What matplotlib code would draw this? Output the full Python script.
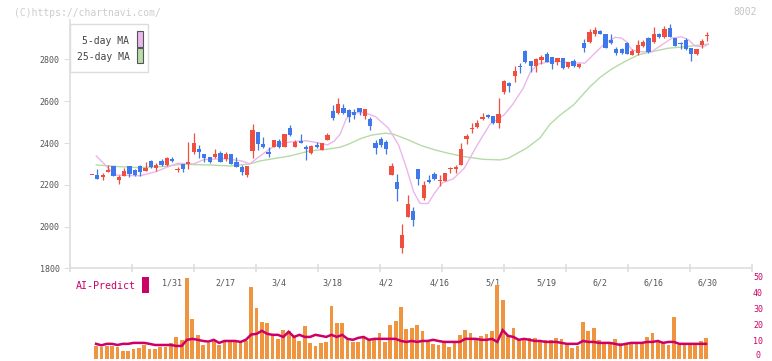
import numpy as np
import matplotlib.pyplot as plt
from matplotlib.patches import Rectangle

# ---- data (116 trading days, 2025-01-09 .. 2025-06-30) ----
opens = [2245, 2247, 2236, 2263, 2290, 2224, 2244, 2290, 2271, 2290,
         2266, 2314, 2282, 2314, 2295, 2324, 2272, 2300, 2298, 2356,
         2371, 2348, 2333, 2333, 2352, 2323, 2348, 2309, 2285, 2248,
         2363, 2453, 2395, 2356, 2382, 2410, 2382, 2472, 2382, 2410,
         2381, 2351, 2391, 2367, 2415, 2553, 2544, 2568, 2558, 2549,
         2568, 2530, 2515, 2400, 2419, 2405, 2247, 2213, 1898, 2046,
         2074, 2276, 2137, 2223, 2252, 2218, 2218, 2274, 2276, 2295,
         2419, 2465, 2477, 2515, 2534, 2530, 2496, 2645, 2688, 2721,
         2765, 2841, 2793, 2769, 2797, 2826, 2812, 2788, 2807, 2764,
         2793, 2764, 2879, 2884, 2922, 2937, 2922, 2893, 2850, 2850,
         2879, 2822, 2831, 2865, 2903, 2884, 2922, 2908, 2951, 2903,
         2876, 2893, 2855, 2826, 2869, 2912]
highs = [2246, 2277, 2255, 2295, 2290, 2247, 2279, 2290, 2277, 2295,
         2309, 2319, 2304, 2324, 2332, 2333, 2284, 2300, 2405, 2448,
         2391, 2348, 2333, 2372, 2362, 2357, 2348, 2333, 2295, 2290,
         2493, 2453, 2429, 2382, 2415, 2419, 2443, 2486, 2415, 2443,
         2391, 2391, 2405, 2400, 2450, 2582, 2616, 2587, 2563, 2563,
         2568, 2563, 2525, 2415, 2429, 2415, 2304, 2252, 2012, 2151,
         2094, 2276, 2218, 2247, 2261, 2247, 2256, 2285, 2295, 2400,
         2443, 2496, 2510, 2544, 2539, 2530, 2616, 2702, 2693, 2769,
         2784, 2845, 2793, 2807, 2822, 2836, 2812, 2807, 2807, 2788,
         2802, 2783, 2898, 2946, 2956, 2941, 2922, 2922, 2860, 2855,
         2884, 2850, 2893, 2893, 2908, 2956, 2927, 2961, 2970, 2903,
         2884, 2903, 2855, 2850, 2898, 2932]
lows = [2245, 2229, 2224, 2260, 2242, 2205, 2242, 2237, 2242, 2242,
        2266, 2279, 2266, 2290, 2290, 2309, 2260, 2260, 2274, 2348,
        2330, 2309, 2303, 2328, 2309, 2314, 2300, 2285, 2247, 2237,
        2328, 2367, 2378, 2335, 2380, 2375, 2382, 2434, 2380, 2400,
        2319, 2348, 2375, 2367, 2415, 2510, 2539, 2539, 2501, 2515,
        2534, 2515, 2462, 2348, 2381, 2348, 2247, 2122, 1873, 2046,
        2003, 2199, 2127, 2208, 2223, 2194, 2218, 2256, 2256, 2295,
        2395, 2448, 2472, 2510, 2520, 2491, 2472, 2635, 2645, 2692,
        2735, 2783, 2740, 2740, 2778, 2788, 2754, 2773, 2754, 2759,
        2764, 2759, 2836, 2879, 2912, 2922, 2855, 2874, 2821, 2826,
        2826, 2822, 2822, 2860, 2831, 2879, 2903, 2903, 2908, 2865,
        2850, 2845, 2793, 2822, 2855, 2889]
closes = [2246, 2229, 2247, 2272, 2242, 2237, 2266, 2253, 2248, 2263,
          2280, 2284, 2295, 2295, 2327, 2314, 2275, 2274, 2309, 2400,
          2359, 2328, 2309, 2348, 2309, 2348, 2300, 2285, 2261, 2290,
          2462, 2395, 2382, 2346, 2415, 2380, 2443, 2439, 2405, 2402,
          2370, 2386, 2380, 2400, 2439, 2520, 2587, 2545, 2525, 2534,
          2549, 2563, 2482, 2376, 2391, 2372, 2290, 2180, 1960, 2108,
          2031, 2228, 2199, 2212, 2228, 2222, 2256, 2277, 2285, 2372,
          2434, 2468, 2496, 2525, 2525, 2496, 2539, 2697, 2673, 2745,
          2762, 2788, 2769, 2802, 2812, 2788, 2778, 2807, 2759, 2788,
          2769, 2778, 2855, 2932, 2941, 2922, 2855, 2879, 2831, 2831,
          2826, 2841, 2869, 2884, 2836, 2922, 2908, 2946, 2908, 2865,
          2872, 2850, 2826, 2850, 2889, 2915]

# moving averages, sampled along the drawn curves
ma5_x = [0.8, 4.3, 9, 12, 14, 16, 19, 21, 25, 28, 29.5, 31, 33, 34.5, 37, 40,
         42, 44, 45.3, 46.4, 47.5, 48.5, 51, 53, 55.4, 57.3, 58.8, 60.1, 61.3,
         62.8, 64, 65.5, 67.5, 69.6, 72, 74.4, 77, 78.5, 80.6, 81.9, 83.3,
         85.6, 87.5, 90, 91.2, 92.1, 94, 95.9, 97.8, 99, 99.9, 100.9, 102.4,
         104.6, 106.5, 108.4, 110.2, 111.5, 112.7, 114.3, 115.2]
ma5_y = [2338, 2247, 2243, 2263, 2284, 2303, 2300, 2321, 2325, 2314, 2300,
         2330, 2367, 2391, 2405, 2411, 2402, 2391, 2410, 2443, 2515, 2545,
         2545, 2526, 2471, 2391, 2279, 2167, 2111, 2110, 2159, 2210, 2228,
         2280, 2390, 2490, 2534, 2580, 2662, 2738, 2778, 2790, 2790, 2782,
         2784, 2782, 2830, 2878, 2906, 2902, 2885, 2846, 2837, 2837, 2870,
         2902, 2909, 2894, 2865, 2861, 2874]
ma25_x = [0.8, 4.9, 8.7, 13, 16.8, 21.7, 25.8, 29.5, 31.4, 33.9, 37, 40.7,
          43.9, 46.4, 47.9, 50.4, 52.3, 54.8, 56.3, 59.1, 61.6, 64.1, 66.6,
          69.4, 73.1, 76.3, 77.8, 81.2, 83.7, 85.6, 87.5, 90, 93.1, 95, 97.2,
          99.6, 102.1, 104.6, 107.7, 110.8, 113.9, 115.2]
ma25_y = [2295, 2287, 2282, 2287, 2298, 2295, 2290, 2300, 2314, 2325, 2338,
          2362, 2370, 2380, 2394, 2423, 2438, 2447, 2443, 2415, 2387, 2367,
          2351, 2335, 2322, 2319, 2327, 2375, 2423, 2490, 2534, 2582, 2670,
          2715, 2755, 2790, 2822, 2837, 2854, 2861, 2870, 2873]

volume = [np.nan, 7.8, 7.0, 7.8, 7.8, 7.0, 4.7, 4.7, 5.9, 6.6,
          8.2, 5.9, 5.9, 7.4, 7.4, 9.7, 13.4, 11.6, 49.7, 24.7,
          14.7, 8.4, 9.7, 11.6, 8.4, 10.3, 11.1, 11.1, 10.3, 11.1,
          44.1, 31.6, 22.4, 22.2, 15.1, 12.2, 17.8, 17.2, 14.1, 11.0,
          20.1, 9.7, 7.8, 9.7, 10.5, 32.8, 21.8, 21.8, 12.2, 10.5,
          10.5, 13.6, 12.2, 12.4, 16.1, 10.3, 20.9, 23.2, 32.2, 18.4,
          19.1, 20.9, 17.2, 11.6, 9.1, 8.4, 9.7, 7.2, 9.7, 14.7,
          17.8, 15.9, 12.8, 14.1, 15.3, 17.2, 45.9, 36.6, 14.1, 19.1,
          11.6, 11.6, 12.8, 12.8, 11.6, 11.6, 11.6, 12.8, 12.2, 8.4,
          6.6, 7.8, 22.8, 17.2, 19.1, 11.6, 9.7, 9.7, 12.2, 9.7,
          9.1, 9.1, 9.7, 9.7, 13.4, 15.9, 10.9, 10.3, 8.4, 25.9,
          8.4, 9.7, 9.1, 9.7, 10.9, 12.8]
ai_predict = [np.nan, 9.1, 8.2, 9.1, 9.1, 8.4, 9.1, 9.1, 9.7, 9.7,
              9.7, 9.1, 8.4, 8.4, 8.4, 8.4, 7.8, 7.8, 11.6, 12.2,
              11.6, 10.9, 10.5, 11.6, 9.7, 10.9, 10.9, 10.9, 10.3, 11.6,
              14.9, 15.3, 17.2, 15.3, 14.7, 14.7, 13.4, 16.6, 13.4, 14.7,
              13.4, 13.4, 14.7, 14.1, 13.4, 14.7, 13.4, 14.7, 12.2, 11.6,
              12.8, 13.4, 11.6, 12.2, 12.2, 12.2, 12.2, 12.2, 10.9, 10.3,
              10.9, 10.3, 10.9, 10.9, 11.6, 10.9, 10.3, 10.3, 10.3, 10.3,
              12.2, 12.2, 12.2, 11.6, 11.6, 12.2, 10.3, 17.6, 14.1, 13.4,
              11.6, 12.2, 11.6, 10.9, 10.9, 10.3, 10.3, 10.3, 9.7, 9.1,
              9.1, 9.1, 10.9, 10.3, 10.3, 9.7, 9.7, 9.7, 9.1, 8.4,
              9.1, 9.7, 9.7, 9.7, 10.3, 10.3, 10.9, 9.7, 10.3, 10.3,
              9.1, 9.1, 9.1, 9.1, 9.1, 9.1]

date_idx = [15, 25, 35, 45, 55, 65, 75, 85, 95, 105, 115]
date_labels = ['1/31', '2/17', '3/4', '3/18', '4/2', '4/16', '5/1', '5/19',
               '6/2', '6/16', '6/30']
price_ticks = [1800, 2000, 2200, 2400, 2600, 2800]
vol_ticks = [0, 10, 20, 30, 40, 50]

# ---- drawing ----
W, H = 772, 361
MONO = 'DejaVu Sans Mono'
RED, BLUE = '#f04e3e', '#3f78ea'
AXC = '#dedede'


def fx(px):
    return px / W


def fy(py):
    return 1 - py / H


fig = plt.figure(figsize=(W / 100, H / 100), dpi=100)
fig.patch.set_facecolor('white')

ax = fig.add_axes([fx(70), fy(268.3), fx(752) - fx(70), fy(20) - fy(268.3)])
ax.set_xlim(-4.11, 123.36)
ax.set_ylim(1800, 2989)

o = np.array(opens, float)
c = np.array(closes, float)
h = np.array(highs, float)
l = np.array(lows, float)
x = np.arange(len(o))
col = np.where(c >= o, RED, BLUE)

ax.vlines(x, l, h, colors=col, lw=0.9, zorder=2)
body_lo = np.minimum(o, c)
body_h = np.maximum(np.abs(c - o), 5)
ax.bar(x, body_h, bottom=body_lo, width=0.8, color=col, lw=0, zorder=3)

ax.plot(ma25_x, ma25_y, color='#b6dba6', lw=1.0, zorder=1)
ax.plot(ma5_x, ma5_y, color='#ebb6ec', lw=1.0, zorder=1)

for s in ['top', 'right']:
    ax.spines[s].set_visible(False)
ax.spines['left'].set_color(AXC)
ax.spines['bottom'].set_color(AXC)
ax.spines['left'].set_linewidth(1.2)
ax.spines['bottom'].set_linewidth(1.2)

ax.set_yticks(price_ticks)
ax.set_yticklabels([str(t) for t in price_ticks])
ax.tick_params(axis='y', length=4, color=AXC, pad=3.5, labelsize=6,
               labelcolor='#555555')
for t in ax.get_yticklabels():
    t.set_family(MONO)

ax.set_xticks(date_idx)
ax.set_xticklabels(date_labels)
ax.tick_params(axis='x', which='major', length=0, pad=7, labelsize=6,
               labelcolor='#555555')
for t in ax.get_xticklabels():
    t.set_family(MONO)
ax.set_xticks([(70 + 62 * k - 92) / 5.35 for k in range(12)], minor=True)
ax.tick_params(axis='x', which='minor', length=6, direction='inout',
               color=AXC, width=1.2)

# volume / AI-Predict panel
av = fig.add_axes([fx(70), fy(358.5), fx(752) - fx(70), fy(278) - fy(358.5)])
av.set_xlim(-3.87, 123.6)
av.set_ylim(0, 50)
av.bar(x, volume, width=0.7, color='#f0953f', lw=0)
av.plot(x, ai_predict, color='#cc0066', lw=1.8, solid_joinstyle='miter')
av.axis('off')
for v in vol_ticks:
    yp = min(278 + (50 - v) * 1.58, 355.5)
    fig.text(fx(758), fy(yp), str(v), ha='center', va='center',
             fontsize=6, family=MONO, color='#cc0066')

# legend box
fig.add_artist(Rectangle((fx(70.3), fy(71.7)), fx(148.3) - fx(70.3),
                         fy(24) - fy(71.7), transform=fig.transFigure,
                         fc='white', ec='#dddddd', lw=1, zorder=5))
fig.text(fx(129.5), fy(41.5), '5-day MA', ha='right', va='center',
         fontsize=7, family=MONO, color='#444444', zorder=6)
fig.text(fx(129.5), fy(57), '25-day MA', ha='right', va='center',
         fontsize=7, family=MONO, color='#444444', zorder=6)
fig.add_artist(Rectangle((fx(136.5), fy(46.5)), fx(142.5) - fx(136.5),
                         fy(31.5) - fy(46.5), transform=fig.transFigure,
                         fc='#eab8ea', ec='#555555', lw=0.8, zorder=6))
fig.add_artist(Rectangle((fx(136.5), fy(63)), fx(142.5) - fx(136.5),
                         fy(48.5) - fy(63), transform=fig.transFigure,
                         fc='#b8dcaa', ec='#555555', lw=0.8, zorder=6))

# AI-Predict label
fig.text(fx(75.5), fy(286), 'AI-Predict', ha='left', va='center',
         fontsize=7.2, family=MONO, color='#cc0066')
fig.add_artist(Rectangle((fx(142.3), fy(292.7)), fx(148.7) - fx(142.3),
                         fy(277.3) - fy(292.7), transform=fig.transFigure,
                         fc='#cc0066', ec='none', zorder=6))

# watermark and code
fig.text(fx(14), fy(12.7), '(C)https://chartnavi.com/', ha='left',
         va='center', fontsize=7, family=MONO, color='#cccccc')
fig.text(fx(757), fy(11.7), '8002', ha='right', va='center', fontsize=7,
         family=MONO, color='#c4c4c4')

fig.savefig('out.png', dpi=100)
